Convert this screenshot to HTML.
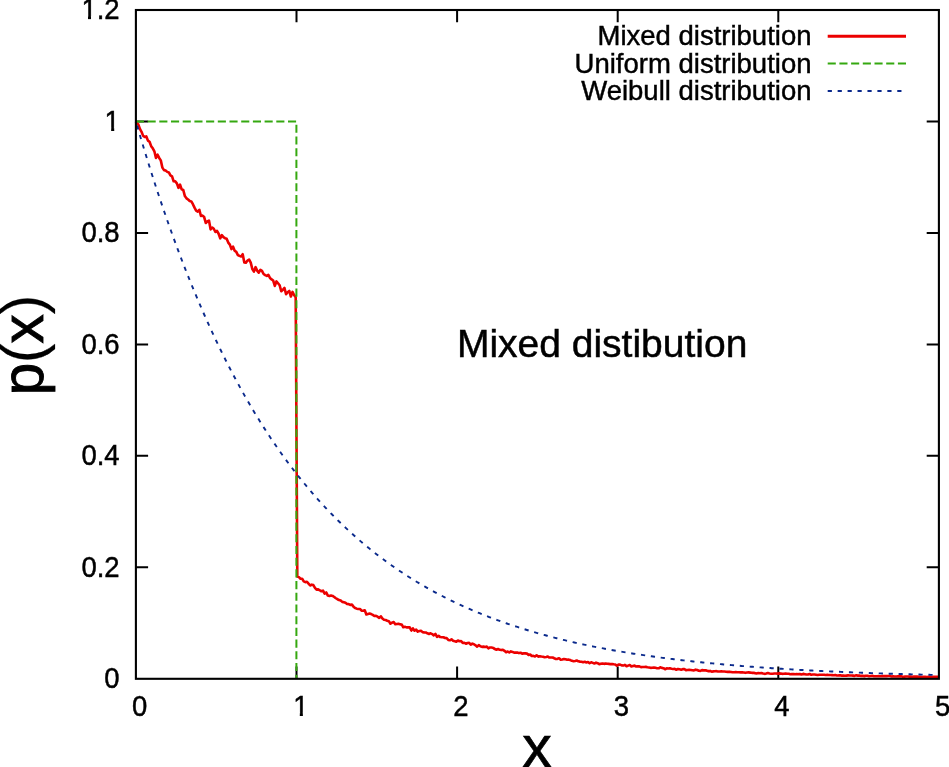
<!DOCTYPE html>
<html lang="en"><head><meta charset="utf-8"><title>Mixed distribution</title>
<style>html,body{margin:0;padding:0;background:#fff;overflow:hidden}svg{display:block}</style>
</head><body>
<svg width="949" height="767" viewBox="0 0 949 767">
<rect width="949" height="767" fill="#fff"/>
<path d="M296.50 678.8 v-12.2 M296.50 10.0 v12.2 M457.10 678.8 v-12.2 M457.10 10.0 v12.2 M617.70 678.8 v-12.2 M617.70 10.0 v12.2 M778.30 678.8 v-12.2 M778.30 10.0 v12.2 M135.9 567.33 h12.2 M938.9 567.33 h-12.2 M135.9 455.87 h12.2 M938.9 455.87 h-12.2 M135.9 344.40 h12.2 M938.9 344.40 h-12.2 M135.9 232.93 h12.2 M938.9 232.93 h-12.2 M135.9 121.47 h12.2 M938.9 121.47 h-12.2" stroke="#000" stroke-width="2" fill="none"/>
<path d="M135.90 121.47 L136.70 123.45 L138.31 124.42 L139.92 128.87 L141.52 131.78 L143.13 135.88 L144.73 136.87 L146.34 136.44 L147.94 140.63 L149.55 141.80 L151.16 146.15 L152.76 148.34 L154.37 151.32 L155.97 157.99 L157.58 154.72 L159.19 157.94 L160.79 160.35 L162.40 167.66 L164.00 170.12 L165.61 170.52 L167.22 171.88 L168.82 172.44 L170.43 175.48 L172.04 176.46 L173.64 181.25 L175.25 181.34 L176.85 183.32 L178.46 187.79 L180.06 184.69 L181.67 189.35 L183.28 190.04 L184.88 196.07 L186.49 198.38 L188.10 199.54 L189.70 201.02 L191.31 201.41 L192.91 204.20 L194.52 207.65 L196.12 210.67 L197.73 211.63 L199.34 209.79 L200.94 216.00 L202.55 215.60 L204.16 217.04 L205.76 222.93 L207.37 221.45 L208.97 220.57 L210.58 229.35 L212.19 227.51 L213.79 228.78 L215.40 231.98 L217.00 230.91 L218.61 233.76 L220.22 238.34 L221.82 235.20 L223.43 237.16 L225.03 238.19 L226.64 238.76 L228.25 242.58 L229.85 244.64 L231.46 249.11 L233.06 246.69 L234.67 250.73 L236.28 251.90 L237.88 255.05 L239.49 255.90 L241.09 256.47 L242.70 254.20 L244.31 262.38 L245.91 262.62 L247.52 260.57 L249.12 259.52 L250.73 262.64 L252.33 269.00 L253.94 271.58 L255.55 267.12 L257.15 270.63 L258.76 272.70 L260.37 269.80 L261.97 270.83 L263.58 273.98 L265.18 275.06 L266.79 275.92 L268.39 274.85 L270.00 278.00 L271.61 279.40 L273.21 280.54 L274.82 285.89 L276.43 281.44 L278.03 283.24 L279.64 285.23 L281.24 291.27 L282.85 289.76 L284.46 287.99 L286.06 294.27 L287.67 292.18 L289.27 290.91 L290.88 296.52 L292.49 291.89 L294.09 295.00 L295.70 297.39 L297.30 576.47 L298.91 577.16 L300.51 578.70 L302.12 578.68 L303.73 581.44 L305.33 582.18 L306.94 581.72 L308.54 583.67 L310.15 585.49 L311.76 584.67 L313.36 585.11 L314.97 587.84 L316.58 589.63 L318.18 589.36 L319.79 590.26 L321.39 591.28 L323.00 590.58 L324.61 593.69 L326.21 592.45 L327.82 595.60 L329.42 596.00 L331.03 595.55 L332.63 595.93 L334.24 596.99 L335.85 598.25 L337.45 599.23 L339.06 600.02 L340.67 600.43 L342.27 601.86 L343.88 602.23 L345.48 602.74 L347.09 603.98 L348.69 604.08 L350.30 604.99 L351.91 604.50 L353.51 606.65 L355.12 607.99 L356.73 608.65 L358.33 609.05 L359.94 608.98 L361.54 610.70 L363.15 610.79 L364.75 610.29 L366.36 614.52 L367.97 614.01 L369.57 613.56 L371.18 614.09 L372.79 614.86 L374.39 616.02 L376.00 615.80 L377.60 616.71 L379.21 617.95 L380.82 616.28 L382.42 618.49 L384.03 619.78 L385.63 620.02 L387.24 620.70 L388.85 621.16 L390.45 623.73 L392.06 622.62 L393.66 622.07 L395.27 624.24 L396.88 623.98 L398.48 623.78 L400.09 624.39 L401.69 624.47 L403.30 627.30 L404.90 626.86 L406.51 627.37 L408.12 627.19 L409.72 627.38 L411.33 630.53 L412.94 628.39 L414.54 630.65 L416.15 629.66 L417.75 631.64 L419.36 630.98 L420.97 630.76 L422.57 632.14 L424.18 632.38 L425.78 632.43 L427.39 633.33 L429.00 633.93 L430.60 633.31 L432.21 634.07 L433.81 635.39 L435.42 633.85 L437.02 636.81 L438.63 635.90 L440.24 637.08 L441.84 637.24 L443.45 637.29 L445.06 638.01 L446.66 638.15 L448.27 639.91 L449.87 640.29 L451.48 639.36 L453.09 640.73 L454.69 641.15 L456.30 641.79 L457.90 640.51 L459.51 641.20 L461.12 641.13 L462.72 642.94 L464.33 642.75 L465.93 643.78 L467.54 643.01 L469.14 642.88 L470.75 644.68 L472.36 643.60 L473.96 644.27 L475.57 645.29 L477.17 646.65 L478.78 645.05 L480.39 646.23 L481.99 646.84 L483.60 646.60 L485.21 646.91 L486.81 646.62 L488.42 648.33 L490.02 647.45 L491.63 647.57 L493.24 647.90 L494.84 649.08 L496.45 649.68 L498.05 649.03 L499.66 649.80 L501.26 650.09 L502.87 649.69 L504.48 650.86 L506.08 652.20 L507.69 651.48 L509.30 652.51 L510.90 651.40 L512.51 651.93 L514.11 652.67 L515.72 652.62 L517.33 652.46 L518.93 653.10 L520.54 652.73 L522.14 653.68 L523.75 653.38 L525.36 653.41 L526.96 653.60 L528.57 654.96 L530.17 654.45 L531.78 656.02 L533.38 655.87 L534.99 656.52 L536.60 655.30 L538.20 656.62 L539.81 656.27 L541.41 656.58 L543.02 656.73 L544.63 657.21 L546.23 657.04 L547.84 656.54 L549.45 657.56 L551.05 657.55 L552.66 657.55 L554.26 658.29 L555.87 658.97 L557.48 658.86 L559.08 658.34 L560.69 659.74 L562.29 659.47 L563.90 658.97 L565.50 659.25 L567.11 659.79 L568.72 659.63 L570.32 660.09 L571.93 660.85 L573.54 661.20 L575.14 660.99 L576.75 660.51 L578.35 661.31 L579.96 661.63 L581.56 661.74 L583.17 662.23 L584.78 661.82 L586.38 662.42 L587.99 661.96 L589.60 663.22 L591.20 662.31 L592.81 662.86 L594.41 663.53 L596.02 662.63 L597.62 663.19 L599.23 664.11 L600.84 663.73 L602.44 663.43 L604.05 663.87 L605.65 663.55 L607.26 663.71 L608.87 663.89 L610.47 664.16 L612.08 663.93 L613.69 664.33 L615.29 664.55 L616.90 665.63 L618.50 664.66 L620.11 664.65 L621.71 665.38 L623.32 665.57 L624.93 664.84 L626.53 666.30 L628.14 665.63 L629.75 665.07 L631.35 666.38 L632.96 665.94 L634.56 665.65 L636.17 666.48 L637.77 666.36 L639.38 666.37 L640.99 667.11 L642.59 666.95 L644.20 666.94 L645.81 666.87 L647.41 667.28 L649.02 667.45 L650.62 667.84 L652.23 667.73 L653.84 667.43 L655.44 667.80 L657.05 668.22 L658.65 668.32 L660.26 667.29 L661.86 667.89 L663.47 668.16 L665.08 669.30 L666.68 668.38 L668.29 668.52 L669.90 668.25 L671.50 668.74 L673.11 669.00 L674.71 668.91 L676.32 669.77 L677.92 668.95 L679.53 669.26 L681.14 669.67 L682.74 669.15 L684.35 669.10 L685.96 670.15 L687.56 670.02 L689.17 669.82 L690.77 669.94 L692.38 670.20 L693.99 670.46 L695.59 669.64 L697.20 670.04 L698.80 670.77 L700.41 670.89 L702.01 670.11 L703.62 670.39 L705.23 670.24 L706.83 670.61 L708.44 671.16 L710.05 670.92 L711.65 671.67 L713.26 671.35 L714.86 671.24 L716.47 671.16 L718.07 671.57 L719.68 671.48 L721.29 671.40 L722.89 671.49 L724.50 671.50 L726.11 671.68 L727.71 671.89 L729.32 671.67 L730.92 671.93 L732.53 672.23 L734.13 672.24 L735.74 672.15 L737.35 672.24 L738.95 672.24 L740.56 672.34 L742.16 672.36 L743.77 672.51 L745.38 672.85 L746.98 672.49 L748.59 672.40 L750.20 672.61 L751.80 672.83 L753.41 672.73 L755.01 673.13 L756.62 673.41 L758.23 673.00 L759.83 673.29 L761.44 672.96 L763.04 673.44 L764.65 673.86 L766.25 673.54 L767.86 672.99 L769.47 673.50 L771.07 673.77 L772.68 673.69 L774.28 673.45 L775.89 673.51 L777.50 673.63 L779.10 673.39 L780.71 673.61 L782.32 673.83 L783.92 673.74 L785.53 673.56 L787.13 673.76 L788.74 673.80 L790.35 674.30 L791.95 674.14 L793.56 674.00 L795.16 674.27 L796.77 674.02 L798.38 674.17 L799.98 674.15 L801.59 674.43 L803.19 673.90 L804.80 674.22 L806.40 674.56 L808.01 674.54 L809.62 674.07 L811.22 674.71 L812.83 674.51 L814.43 674.53 L816.04 674.76 L817.65 675.04 L819.25 674.81 L820.86 674.81 L822.47 674.70 L824.07 674.81 L825.68 675.00 L827.28 674.87 L828.89 674.97 L830.50 675.07 L832.10 675.14 L833.71 675.23 L835.31 675.09 L836.92 675.45 L838.52 675.41 L840.13 675.33 L841.74 675.63 L843.34 675.48 L844.95 675.80 L846.55 675.59 L848.16 675.39 L849.77 675.43 L851.37 675.57 L852.98 675.64 L854.59 675.88 L856.19 675.34 L857.80 675.60 L859.40 675.53 L861.01 675.90 L862.62 675.81 L864.22 676.12 L865.83 675.71 L867.43 675.71 L869.04 676.22 L870.65 675.94 L872.25 675.85 L873.86 676.28 L875.46 676.32 L877.07 676.22 L878.67 676.17 L880.28 676.32 L881.89 676.12 L883.49 676.11 L885.10 676.07 L886.70 676.09 L888.31 675.99 L889.92 676.07 L891.52 676.48 L893.13 676.38 L894.74 676.49 L896.34 676.52 L897.95 676.39 L899.55 676.40 L901.16 676.35 L902.76 676.69 L904.37 676.66 L905.98 676.50 L907.58 676.55 L909.19 676.59 L910.80 676.57 L912.40 676.70 L914.01 676.50 L915.61 676.58 L917.22 676.66 L918.82 676.77 L920.43 676.72 L922.04 677.10 L923.64 676.88 L925.25 676.75 L926.85 676.99 L928.46 676.77 L930.07 676.80 L931.67 677.03 L933.28 676.89 L934.89 676.92 L936.49 676.83 L938.10 676.83" stroke="#ec0000" stroke-width="2.6" fill="none" stroke-linejoin="round"/>
<path d="M135.90 121.47 L296.40 121.47 L296.40 678.80" stroke="#35a810" stroke-width="2" fill="none" stroke-dasharray="8.1 3.6"/>
<path d="M135.90 121.47 L137.51 127.01 L139.11 132.50 L140.72 137.94 L142.32 143.32 L143.93 148.65 L145.54 153.92 L147.14 159.15 L148.75 164.32 L150.35 169.44 L151.96 174.50 L153.57 179.52 L155.17 184.49 L156.78 189.41 L158.38 194.28 L159.99 199.10 L161.60 203.87 L163.20 208.60 L164.81 213.28 L166.41 217.91 L168.02 222.49 L169.63 227.03 L171.23 231.53 L172.84 235.98 L174.44 240.39 L176.05 244.75 L177.66 249.07 L179.26 253.34 L180.87 257.58 L182.47 261.77 L184.08 265.92 L185.69 270.03 L187.29 274.09 L188.90 278.12 L190.50 282.11 L192.11 286.05 L193.72 289.96 L195.32 293.83 L196.93 297.66 L198.53 301.45 L200.14 305.21 L201.75 308.93 L203.35 312.61 L204.96 316.25 L206.56 319.86 L208.17 323.43 L209.78 326.96 L211.38 330.47 L212.99 333.93 L214.59 337.36 L216.20 340.76 L217.81 344.12 L219.41 347.45 L221.02 350.75 L222.62 354.01 L224.23 357.25 L225.84 360.45 L227.44 363.61 L229.05 366.75 L230.65 369.85 L232.26 372.93 L233.87 375.97 L235.47 378.99 L237.08 381.97 L238.68 384.92 L240.29 387.85 L241.90 390.74 L243.50 393.61 L245.11 396.45 L246.71 399.25 L248.32 402.04 L249.93 404.79 L251.53 407.52 L253.14 410.22 L254.74 412.89 L256.35 415.53 L257.96 418.15 L259.56 420.75 L261.17 423.32 L262.77 425.86 L264.38 428.37 L265.99 430.87 L267.59 433.33 L269.20 435.78 L270.80 438.19 L272.41 440.59 L274.02 442.96 L275.62 445.30 L277.23 447.63 L278.83 449.93 L280.44 452.21 L282.05 454.46 L283.65 456.69 L285.26 458.90 L286.86 461.09 L288.47 463.26 L290.08 465.40 L291.68 467.52 L293.29 469.63 L294.89 471.71 L296.50 473.77 L298.11 475.81 L299.71 477.83 L301.32 479.83 L302.92 481.81 L304.53 483.77 L306.14 485.71 L307.74 487.63 L309.35 489.53 L310.95 491.42 L312.56 493.28 L314.17 495.13 L315.77 496.95 L317.38 498.76 L318.98 500.55 L320.59 502.33 L322.20 504.08 L323.80 505.82 L325.41 507.54 L327.01 509.25 L328.62 510.93 L330.23 512.60 L331.83 514.26 L333.44 515.90 L335.04 517.52 L336.65 519.12 L338.26 520.71 L339.86 522.28 L341.47 523.84 L343.07 525.38 L344.68 526.91 L346.29 528.42 L347.89 529.92 L349.50 531.40 L351.10 532.86 L352.71 534.32 L354.32 535.75 L355.92 537.18 L357.53 538.59 L359.13 539.98 L360.74 541.36 L362.35 542.73 L363.95 544.08 L365.56 545.43 L367.16 546.75 L368.77 548.07 L370.38 549.37 L371.98 550.65 L373.59 551.93 L375.19 553.19 L376.80 554.44 L378.41 555.68 L380.01 556.90 L381.62 558.12 L383.22 559.32 L384.83 560.51 L386.44 561.68 L388.04 562.85 L389.65 564.00 L391.25 565.15 L392.86 566.28 L394.47 567.40 L396.07 568.50 L397.68 569.60 L399.28 570.69 L400.89 571.76 L402.50 572.83 L404.10 573.88 L405.71 574.93 L407.31 575.96 L408.92 576.98 L410.53 578.00 L412.13 579.00 L413.74 579.99 L415.34 580.98 L416.95 581.95 L418.56 582.91 L420.16 583.87 L421.77 584.81 L423.37 585.75 L424.98 586.67 L426.59 587.59 L428.19 588.50 L429.80 589.40 L431.40 590.29 L433.01 591.17 L434.62 592.04 L436.22 592.90 L437.83 593.76 L439.43 594.60 L441.04 595.44 L442.65 596.27 L444.25 597.09 L445.86 597.90 L447.46 598.71 L449.07 599.51 L450.68 600.29 L452.28 601.08 L453.89 601.85 L455.49 602.62 L457.10 603.37 L458.71 604.12 L460.31 604.87 L461.92 605.60 L463.52 606.33 L465.13 607.05 L466.74 607.77 L468.34 608.47 L469.95 609.17 L471.55 609.87 L473.16 610.55 L474.77 611.23 L476.37 611.90 L477.98 612.57 L479.58 613.23 L481.19 613.88 L482.80 614.53 L484.40 615.17 L486.01 615.80 L487.61 616.43 L489.22 617.05 L490.83 617.66 L492.43 618.27 L494.04 618.87 L495.64 619.47 L497.25 620.06 L498.86 620.64 L500.46 621.22 L502.07 621.79 L503.67 622.36 L505.28 622.92 L506.89 623.48 L508.49 624.03 L510.10 624.57 L511.70 625.11 L513.31 625.65 L514.92 626.18 L516.52 626.70 L518.13 627.22 L519.73 627.73 L521.34 628.24 L522.95 628.74 L524.55 629.24 L526.16 629.73 L527.76 630.22 L529.37 630.71 L530.98 631.18 L532.58 631.66 L534.19 632.13 L535.79 632.59 L537.40 633.05 L539.01 633.51 L540.61 633.96 L542.22 634.40 L543.82 634.85 L545.43 635.28 L547.04 635.72 L548.64 636.14 L550.25 636.57 L551.85 636.99 L553.46 637.40 L555.07 637.82 L556.67 638.22 L558.28 638.63 L559.88 639.03 L561.49 639.42 L563.10 639.82 L564.70 640.20 L566.31 640.59 L567.91 640.97 L569.52 641.34 L571.13 641.72 L572.73 642.09 L574.34 642.45 L575.94 642.81 L577.55 643.17 L579.16 643.53 L580.76 643.88 L582.37 644.22 L583.97 644.57 L585.58 644.91 L587.19 645.25 L588.79 645.58 L590.40 645.91 L592.00 646.24 L593.61 646.56 L595.22 646.88 L596.82 647.20 L598.43 647.51 L600.03 647.83 L601.64 648.13 L603.25 648.44 L604.85 648.74 L606.46 649.04 L608.06 649.34 L609.67 649.63 L611.28 649.92 L612.88 650.21 L614.49 650.49 L616.09 650.77 L617.70 651.05 L619.31 651.33 L620.91 651.60 L622.52 651.87 L624.12 652.14 L625.73 652.41 L627.34 652.67 L628.94 652.93 L630.55 653.19 L632.15 653.44 L633.76 653.69 L635.37 653.94 L636.97 654.19 L638.58 654.43 L640.18 654.68 L641.79 654.92 L643.40 655.15 L645.00 655.39 L646.61 655.62 L648.21 655.85 L649.82 656.08 L651.43 656.31 L653.03 656.53 L654.64 656.75 L656.24 656.97 L657.85 657.19 L659.46 657.40 L661.06 657.62 L662.67 657.83 L664.27 658.04 L665.88 658.24 L667.49 658.45 L669.09 658.65 L670.70 658.85 L672.30 659.05 L673.91 659.25 L675.52 659.44 L677.12 659.63 L678.73 659.82 L680.33 660.01 L681.94 660.20 L683.55 660.39 L685.15 660.57 L686.76 660.75 L688.36 660.93 L689.97 661.11 L691.58 661.28 L693.18 661.46 L694.79 661.63 L696.39 661.80 L698.00 661.97 L699.61 662.14 L701.21 662.30 L702.82 662.47 L704.42 662.63 L706.03 662.79 L707.64 662.95 L709.24 663.11 L710.85 663.26 L712.45 663.42 L714.06 663.57 L715.67 663.72 L717.27 663.87 L718.88 664.02 L720.48 664.17 L722.09 664.31 L723.70 664.46 L725.30 664.60 L726.91 664.74 L728.51 664.88 L730.12 665.02 L731.73 665.16 L733.33 665.29 L734.94 665.43 L736.54 665.56 L738.15 665.69 L739.76 665.82 L741.36 665.95 L742.97 666.08 L744.57 666.21 L746.18 666.33 L747.79 666.46 L749.39 666.58 L751.00 666.70 L752.60 666.82 L754.21 666.94 L755.82 667.06 L757.42 667.17 L759.03 667.29 L760.63 667.41 L762.24 667.52 L763.85 667.63 L765.45 667.74 L767.06 667.85 L768.66 667.96 L770.27 668.07 L771.88 668.18 L773.48 668.28 L775.09 668.39 L776.69 668.49 L778.30 668.59 L779.91 668.69 L781.51 668.79 L783.12 668.89 L784.72 668.99 L786.33 669.09 L787.94 669.19 L789.54 669.28 L791.15 669.38 L792.75 669.47 L794.36 669.56 L795.97 669.66 L797.57 669.75 L799.18 669.84 L800.78 669.93 L802.39 670.01 L804.00 670.10 L805.60 670.19 L807.21 670.27 L808.81 670.36 L810.42 670.44 L812.03 670.53 L813.63 670.61 L815.24 670.69 L816.84 670.77 L818.45 670.85 L820.06 670.93 L821.66 671.01 L823.27 671.09 L824.87 671.16 L826.48 671.24 L828.09 671.31 L829.69 671.39 L831.30 671.46 L832.90 671.53 L834.51 671.61 L836.12 671.68 L837.72 671.75 L839.33 671.82 L840.93 671.89 L842.54 671.96 L844.15 672.03 L845.75 672.09 L847.36 672.16 L848.96 672.23 L850.57 672.29 L852.18 672.36 L853.78 672.42 L855.39 672.48 L856.99 672.55 L858.60 672.61 L860.21 672.67 L861.81 672.73 L863.42 672.79 L865.02 672.85 L866.63 672.91 L868.24 672.97 L869.84 673.03 L871.45 673.08 L873.05 673.14 L874.66 673.20 L876.27 673.25 L877.87 673.31 L879.48 673.36 L881.08 673.42 L882.69 673.47 L884.30 673.52 L885.90 673.58 L887.51 673.63 L889.11 673.68 L890.72 673.73 L892.33 673.78 L893.93 673.83 L895.54 673.88 L897.14 673.93 L898.75 673.98 L900.36 674.03 L901.96 674.07 L903.57 674.12 L905.17 674.17 L906.78 674.21 L908.39 674.26 L909.99 674.30 L911.60 674.35 L913.20 674.39 L914.81 674.44 L916.42 674.48 L918.02 674.52 L919.63 674.57 L921.23 674.61 L922.84 674.65 L924.45 674.69 L926.05 674.73 L927.66 674.77 L929.26 674.81 L930.87 674.85 L932.48 674.89 L934.08 674.93 L935.69 674.97 L937.29 675.01 L938.90 675.04" stroke="#0b2a8c" stroke-width="1.9" fill="none" stroke-dasharray="4.2 5.74" stroke-dashoffset="-4.2"/>
<rect x="135.9" y="10.0" width="803.0" height="668.8" fill="none" stroke="#000" stroke-width="2.1"/>
<path d="M827.7 36.25 H906.0" stroke="#ec0000" stroke-width="2.8"/>
<path d="M827.7 63.5 H906.0" stroke="#35a810" stroke-width="2" stroke-dasharray="8.1 3.6"/>
<path d="M827.7 91.05 H906.0" stroke="#0b2a8c" stroke-width="1.9" stroke-dasharray="4.2 5.74"/>
<g font-family="'Liberation Sans', sans-serif" font-size="27.5" fill="#000" stroke="#000" stroke-width="0.45" text-anchor="end">
<text x="811.5" y="45.1">Mixed distribution</text>
<text x="811.5" y="72.6">Uniform distribution</text>
<text x="811.5" y="100.1">Weibull distribution</text>
</g>
<defs><clipPath id="c0"><rect x="-17.29" y="-28" width="17.29" height="24.7"/><rect x="-8.68" y="-3.6" width="3.03" height="3.75"/><rect x="0.00" y="-28" width="80" height="34"/></clipPath><clipPath id="c1"><rect x="-40.23" y="-28" width="17.29" height="24.7"/><rect x="-31.61" y="-3.6" width="3.03" height="3.75"/><rect x="-22.93" y="-28" width="80" height="34"/></clipPath><clipPath id="c2"><rect x="-9.65" y="-28" width="17.29" height="24.7"/><rect x="-1.03" y="-3.6" width="3.03" height="3.75"/><rect x="7.65" y="-28" width="80" height="34"/></clipPath></defs>
<g font-family="'Liberation Sans', sans-serif" font-size="27.5" fill="#000" stroke="#000" stroke-width="0.45">
<g transform="translate(119.60 688.25) scale(1 1.045)"><text x="-15.29" y="0">0</text></g>
<g transform="translate(119.60 576.78) scale(1 1.045)"><text x="-38.23" y="0">0.2</text></g>
<g transform="translate(119.60 465.32) scale(1 1.045)"><text x="-38.23" y="0">0.4</text></g>
<g transform="translate(119.60 353.85) scale(1 1.045)"><text x="-38.23" y="0">0.6</text></g>
<g transform="translate(119.60 242.38) scale(1 1.045)"><text x="-38.23" y="0">0.8</text></g>
<g transform="translate(119.85 130.92) scale(1 1.045)" clip-path="url(#c0)"><text x="-15.29" y="0">1</text></g>
<g transform="translate(119.60 19.45) scale(1 1.045)" clip-path="url(#c1)"><text x="-38.23" y="0">1.2</text></g>
<g transform="translate(139.60 715.90) scale(1 1.045)"><text x="-7.65" y="0">0</text></g>
<g transform="translate(300.85 715.90) scale(1 1.045)" clip-path="url(#c2)"><text x="-7.65" y="0">1</text></g>
<g transform="translate(460.80 715.90) scale(1 1.045)"><text x="-7.65" y="0">2</text></g>
<g transform="translate(621.40 715.90) scale(1 1.045)"><text x="-7.65" y="0">3</text></g>
<g transform="translate(782.00 715.90) scale(1 1.045)"><text x="-7.65" y="0">4</text></g>
<g transform="translate(942.60 715.90) scale(1 1.045)"><text x="-7.65" y="0">5</text></g>
</g>
<text font-family="'Liberation Sans', sans-serif" font-size="39" stroke="#000" stroke-width="0.5" x="456.9" y="357.3">Mixed distibution</text>
<text font-family="'Liberation Sans', sans-serif" font-size="59" stroke="#000" stroke-width="0.7" text-anchor="middle" x="537.1" y="767.2">x</text>
<text font-family="'Liberation Sans', sans-serif" font-size="58.3" stroke="#000" stroke-width="0.9" text-anchor="middle" transform="translate(42.6 345.1) rotate(-90)">p<tspan stroke-width="0.2">(</tspan>x<tspan stroke-width="0.2">)</tspan></text>
</svg>
</body></html>
